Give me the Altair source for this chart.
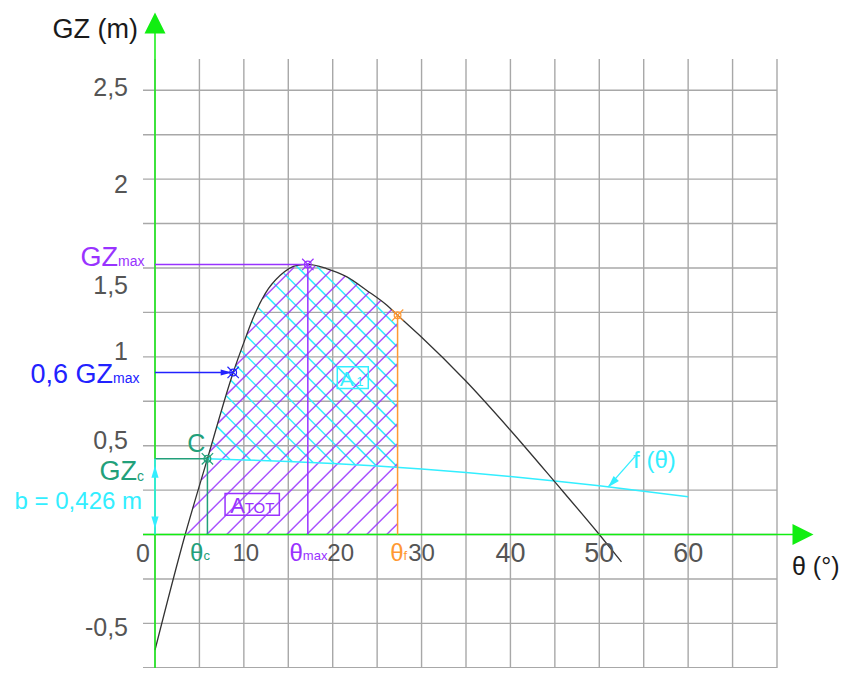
import numpy as np
import pandas as pd
import altair as alt

# ---------------- data ----------------
THETA = [0, 3.4, 5.9, 8.8, 10.1, 11.1, 12.4, 14.1, 16.0, 17.2, 19.3, 21.6,
         23.8, 26.1, 27.3, 29.8, 34.9, 40.0, 45.0, 50.0, 52.5]
GZ = [-0.65, 0.0, 0.426, 0.912, 1.094, 1.225, 1.356, 1.459, 1.515, 1.52, 1.497,
      1.45, 1.375, 1.29, 1.234, 1.12, 0.868, 0.587, 0.296, 0.0, -0.154]

F_THETA = [5.9, 10, 15, 20, 25, 30, 35, 40, 45, 50, 55, 60]
F_VAL = [0.426, 0.42, 0.411, 0.40, 0.386, 0.369, 0.349, 0.326, 0.301, 0.274, 0.244, 0.213]

THETA_0 = 3.4
THETA_C, GZ_C = 5.9, 0.426
THETA_06, GZ_06 = 8.8, 0.912
THETA_MAX, GZ_MAX = 17.2, 1.52
THETA_F, GZ_F = 27.3, 1.234

X_TICKS = [0, 10, 20, 30, 40, 50, 60]
X_TICK_LABELS = ["0", "10", "20", "30", "40", "50", "60"]
Y_TICKS = [2.5, 2.0, 1.5, 1.0, 0.5, -0.5]
Y_TICK_LABELS = ["2,5", "2", "1,5", "1", "0,5", "-0,5"]
X_GRID = list(range(0, 75, 5))
Y_GRID = [-0.75, -0.5, -0.25, 0, 0.25, 0.5, 0.75, 1, 1.25, 1.5, 1.75, 2, 2.25, 2.5]

# ---------------- layout / style ----------------
W, H = 634, 609
XMIN, XMAX = -1.35, 70.0
SX = W / (XMAX - XMIN)
SY = 177.7
YMAX = 2.676
YMIN = YMAX - H / SY
PAD = {"left": 135, "top": 51, "right": 64, "bottom": 0}

FONT = "Liberation Sans"
PURPLE = "#9933ff"
BLUE = "#2222ff"
TEAL = "#22a07a"
CYAN = "#33eeff"
ORANGE = "#ff9933"
GREEN = "#11ee11"
GRID = "#a8a8a8"
TICK = "#555555"

xs = alt.Scale(domain=[XMIN, XMAX], nice=False, zero=False)
ys = alt.Scale(domain=[YMIN, YMAX], nice=False, zero=False)


def X(f):
    return alt.X(f, type="quantitative", scale=xs, axis=None)


def Y(f):
    return alt.Y(f, type="quantitative", scale=ys, axis=None)


def X2(f):
    return alt.X2(f)


def Y2(f):
    return alt.Y2(f)


layers = []

# ---------------- grid ----------------
layers.append(alt.Chart(pd.DataFrame({"x": X_GRID})).mark_rule(color=GRID, strokeWidth=1.4).encode(x=X("x")))
layers.append(alt.Chart(pd.DataFrame({"y": Y_GRID})).mark_rule(color=GRID, strokeWidth=1.4).encode(y=Y("y")))

# ---------------- hatching (computed from the curves) ----------------
th_arr = np.array(THETA)
gz_arr = np.array(GZ)
fth = np.array(F_THETA)
fv = np.array(F_VAL)


def gz_fn(t):
    return np.interp(t, th_arr, gz_arr)


def f_fn(t):
    return np.interp(t, fth, fv)


def zero_fn(t):
    return np.zeros_like(t)


def hatch(lo_fn, hi_fn, t0, t1, sign, spacing, phase):
    u = np.arange(t0 * SX, t1 * SX + 0.001, 0.05)
    th = u / SX
    lo = lo_fn(th) * SY
    hi = hi_fn(th) * SY
    cmin = (lo - sign * u).min()
    cmax = (hi - sign * u).max()
    k0 = int(np.floor((cmin - phase) / spacing)) - 1
    k1 = int(np.ceil((cmax - phase) / spacing)) + 1
    segs = []
    for k in range(k0, k1 + 1):
        c = phase + k * spacing
        v = sign * u + c
        inside = (v >= lo) & (v <= hi)
        if not inside.any():
            continue
        idx = np.flatnonzero(inside)
        br = np.flatnonzero(np.diff(idx) > 1)
        starts = np.r_[idx[0], idx[br + 1]]
        ends = np.r_[idx[br], idx[-1]]
        for s, e in zip(starts, ends):
            if e - s < 2:
                continue
            segs.append((u[s] / SX, v[s] / SY, u[e] / SX, v[e] / SY))
    return pd.DataFrame(segs, columns=["x", "y", "x2", "y2"])


hatch_tot = hatch(zero_fn, gz_fn, THETA_0, THETA_F, 1, 20.0, -31.7)
hatch_a1 = hatch(f_fn, gz_fn, THETA_C, THETA_F, -1, 20.0, 10.0)

layers.append(alt.Chart(hatch_a1).mark_rule(color=CYAN, strokeWidth=1.5).encode(
    x=X("x"), y=Y("y"), x2=X2("x2"), y2=Y2("y2")))
layers.append(alt.Chart(hatch_tot).mark_rule(color=PURPLE, strokeWidth=1.5, opacity=0.85).encode(
    x=X("x"), y=Y("y"), x2=X2("x2"), y2=Y2("y2")))

# ---------------- f(theta) line ----------------
f_df = pd.DataFrame({"t": F_THETA, "f": F_VAL})
layers.append(alt.Chart(f_df).mark_line(color=CYAN, strokeWidth=1.5).encode(x=X("t"), y=Y("f")))

# ---------------- GZ curve ----------------
curve_df = pd.DataFrame({"t": THETA, "gz": GZ})
layers.append(alt.Chart(curve_df).mark_line(color="#333333", strokeWidth=1.3, interpolate="monotone").encode(
    x=X("t"), y=Y("gz")))

# ---------------- green axes with arrows ----------------
Y_ARROW_BASE = (534.5 - 33) / SY
X_ARROW_BASE = (793 - 155) / SX
axes_df = pd.DataFrame([
    (0, YMIN, 0, Y_ARROW_BASE),
    (XMIN, 0, X_ARROW_BASE, 0),
], columns=["x", "y", "x2", "y2"])
layers.append(alt.Chart(axes_df).mark_rule(color=GREEN, strokeWidth=1.5).encode(
    x=X("x"), y=Y("y"), x2=X2("x2"), y2=Y2("y2")))
layers.append(alt.Chart(pd.DataFrame({"x": [0], "y": [(534.5 - 23) / SY]})).mark_point(
    shape="M0,-1L1,1L-1,1Z", size=441, filled=True, color=GREEN, opacity=1).encode(x=X("x"), y=Y("y")))
layers.append(alt.Chart(pd.DataFrame({"x": [(803 - 155) / SX], "y": [0]})).mark_point(
    shape="M1,0L-1,1L-1,-1Z", size=441, filled=True, color=GREEN, opacity=1).encode(x=X("x"), y=Y("y")))

# ---------------- reference lines ----------------
ref_df = pd.DataFrame([
    (0, GZ_MAX, THETA_MAX, GZ_MAX, PURPLE),
    (THETA_MAX, 0, THETA_MAX, GZ_MAX, PURPLE),
    (0, GZ_06, THETA_06, GZ_06, BLUE),
    (0, GZ_C, THETA_C, GZ_C, TEAL),
    (THETA_C, 0, THETA_C, GZ_C, TEAL),
    (THETA_F, 0, THETA_F, GZ_F, ORANGE),
    (0, 0, 0, GZ_C, CYAN),
], columns=["x", "y", "x2", "y2", "c"])
layers.append(alt.Chart(ref_df).mark_rule(strokeWidth=1.5).encode(
    x=X("x"), y=Y("y"), x2=X2("x2"), y2=Y2("y2"), color=alt.Color("c:N", scale=None)))

# ---------------- markers ----------------
mk_df = pd.DataFrame({
    "x": [THETA_MAX, THETA_06, THETA_C, THETA_F],
    "y": [GZ_MAX, GZ_06, GZ_C, GZ_F],
    "c": [PURPLE, BLUE, TEAL, ORANGE],
})
layers.append(alt.Chart(mk_df).mark_point(shape="circle", size=45, filled=False, strokeWidth=1.2, opacity=1).encode(
    x=X("x"), y=Y("y"), color=alt.Color("c:N", scale=None)))
layers.append(alt.Chart(mk_df).mark_point(shape="M-1,-1L1,1M-1,1L1,-1", size=130, filled=False,
                                          strokeWidth=1.2, opacity=1).encode(
    x=X("x"), y=Y("y"), color=alt.Color("c:N", scale=None)))

# arrow heads
ARROW_UP = "M0,-1L0.6,1L-0.6,1Z"
ARROW_DOWN = "M0,1L0.6,-1L-0.6,-1Z"
ARROW_RIGHT = "M1,0L-1,0.55L-1,-0.55Z"
layers.append(alt.Chart(pd.DataFrame({"x": [0], "y": [GZ_C]})).mark_point(
    shape=ARROW_UP, size=144, filled=True, color=CYAN, opacity=1, yOffset=13).encode(x=X("x"), y=Y("y")))
layers.append(alt.Chart(pd.DataFrame({"x": [0], "y": [0]})).mark_point(
    shape=ARROW_DOWN, size=144, filled=True, color=CYAN, opacity=1, yOffset=-12).encode(x=X("x"), y=Y("y")))
layers.append(alt.Chart(pd.DataFrame({"x": [THETA_06], "y": [GZ_06]})).mark_point(
    shape=ARROW_RIGHT, size=121, filled=True, color=BLUE, opacity=1, xOffset=-7).encode(x=X("x"), y=Y("y")))

# f(theta) leader line
F_LABEL_T, F_LABEL_G = 53.8, 0.374
LEAD_T0, LEAD_G0 = 54.0, 0.438
LEAD_T1 = 51.0
LEAD_G1 = float(np.interp(LEAD_T1, fth, fv))
layers.append(alt.Chart(pd.DataFrame({"x": [LEAD_T0], "y": [LEAD_G0], "x2": [LEAD_T1], "y2": [LEAD_G1]})).mark_rule(
    color=CYAN, strokeWidth=1.3).encode(x=X("x"), y=Y("y"), x2=X2("x2"), y2=Y2("y2")))
layers.append(alt.Chart(pd.DataFrame({"x": [LEAD_T1], "y": [LEAD_G1]})).mark_point(
    shape=ARROW_UP, size=144, filled=True, color=CYAN, opacity=1, angle=223, xOffset=4, yOffset=-4).encode(
    x=X("x"), y=Y("y")))

# label boxes
A1_T, A1_G = 22.26, 0.883
AT_T, AT_G = 10.94, 0.170
layers.append(alt.Chart(pd.DataFrame({"x": [A1_T], "y": [A1_G]})).mark_point(
    shape="M-1,-0.7L1,-0.7L1,0.7L-1,0.7Z", size=961, filled=False, color=CYAN, strokeWidth=1.5, opacity=1).encode(
    x=X("x"), y=Y("y")))
layers.append(alt.Chart(pd.DataFrame({"x": [AT_T], "y": [AT_G]})).mark_point(
    shape="M-1,-0.4L1,-0.4L1,0.4L-1,0.4Z", size=2948, filled=False, color=PURPLE, strokeWidth=1.5, opacity=1).encode(
    x=X("x"), y=Y("y")))


# ---------------- texts ----------------
def label(x, y, text, color, size, align="center", baseline="alphabetic", dx=0, dy=0):
    df = pd.DataFrame({"x": [x], "y": [y], "t": [text]})
    return alt.Chart(df).mark_text(align=align, baseline=baseline, dx=dx, dy=dy, fontSize=size,
                                   color=color, font=FONT).encode(x=X("x"), y=Y("y"), text="t:N")


Y_LABEL_DY = {"2,5": -2, "2": 6, "1,5": 18, "1": -5, "0,5": -5, "-0,5": 5}
for v, s in zip(Y_TICKS, Y_TICK_LABELS):
    layers.append(label(0, v, s, TICK, 25, align="right", baseline="middle", dx=-27, dy=Y_LABEL_DY.get(s, 0)))

X_LABEL_DX = {"0": -12, "10": 2, "20": 8}
X_LABEL_SIZE = {"0": 25, "10": 24, "20": 24, "30": 24}
for v, s in zip(X_TICKS, X_TICK_LABELS):
    layers.append(label(v, 0, s, TICK, X_LABEL_SIZE.get(s, 27), align="center", baseline="middle",
                        dx=X_LABEL_DX.get(s, 0), dy=19))

# axis titles
layers.append(label(0, YMAX, "GZ (m)", "#1a1a1a", 27, align="right", baseline="middle", dx=-17, dy=-29))
layers.append(label(XMAX, 0, "θ (°)", "#1a1a1a", 25, align="left", baseline="middle", dx=15, dy=32))

# theta labels on x-axis
layers.append(label(THETA_C, 0, "θ", TEAL, 24, align="right", baseline="middle", dx=-4, dy=19))
layers.append(label(THETA_C, 0, "c", TEAL, 13, align="left", dx=-4, dy=25))
layers.append(label(THETA_MAX, 0, "θ", PURPLE, 24, align="right", baseline="middle", dx=-5, dy=19))
layers.append(label(THETA_MAX, 0, "max", PURPLE, 13, align="left", dx=-5, dy=25))
layers.append(label(THETA_F, 0, "θ", ORANGE, 24, align="right", baseline="middle", dx=6, dy=19))
layers.append(label(THETA_F, 0, "f", ORANGE, 13, align="left", dx=6, dy=25))

# left annotations
layers.append(label(0, GZ_MAX, "GZ", PURPLE, 27, align="right", dx=-37, dy=2))
layers.append(label(0, GZ_MAX, "max", PURPLE, 14, align="left", dx=-37, dy=2))
layers.append(label(0, GZ_06, "0,6 GZ", BLUE, 27, align="right", dx=-42, dy=11))
layers.append(label(0, GZ_06, "max", BLUE, 14, align="left", dx=-42, dy=11))
layers.append(label(THETA_C, GZ_C, "C", TEAL, 25, align="right", dx=-2, dy=-7))
layers.append(label(0, GZ_C, "GZ", TEAL, 27, align="right", dx=-18, dy=21))
layers.append(label(0, GZ_C, "c", TEAL, 14, align="left", dx=-18, dy=22))
layers.append(label(0, 0, "b = 0,426 m", CYAN, 24, align="right", dx=-13, dy=-26))

# area labels
layers.append(label(A1_T, A1_G, "A", CYAN, 21, align="left", dx=-13, dy=8.5))
layers.append(label(A1_T, A1_G, "1", CYAN, 13, align="left", dx=3.5, dy=8.5))
layers.append(label(AT_T, AT_G, "A", PURPLE, 22, align="left", dx=-22, dy=9))
layers.append(label(AT_T, AT_G, "TOT", PURPLE, 15, align="left", dx=-7.5, dy=9))
layers.append(label(F_LABEL_T, F_LABEL_G, "f (θ)", CYAN, 24, align="left"))

chart = alt.layer(*layers).properties(
    width=W, height=H,
    autosize=alt.AutoSizeParams(type="none"),
    padding=PAD,
).configure_view(stroke=None)

chart.save("out.html", embed_options={"renderer": "svg", "actions": False})
